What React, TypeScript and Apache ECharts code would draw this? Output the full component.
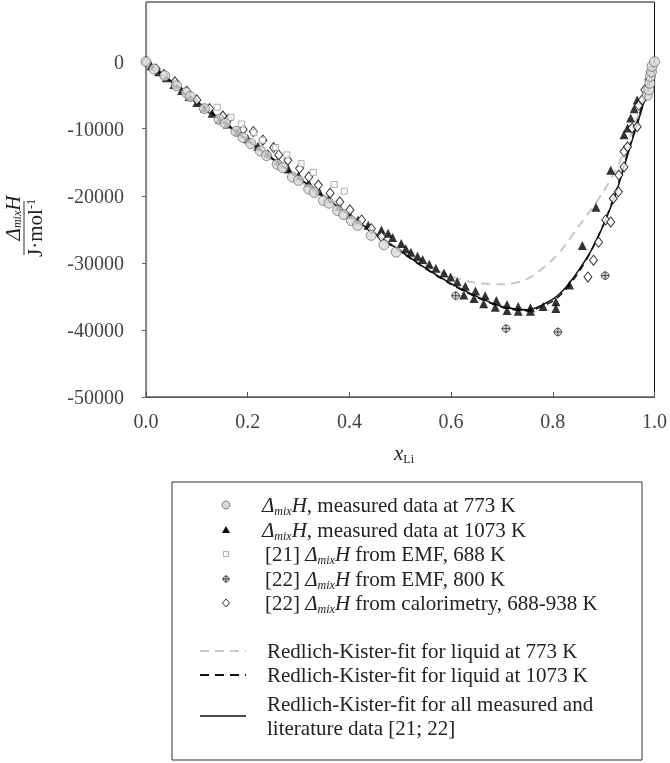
import React, { useEffect, useRef } from "react";
import * as echarts from "echarts";

const FF = '"Liberation Serif", "Times New Roman", serif';

// ---- data ----
const circles773: number[][] = [
  [0, 0], [0.016, -1100], [0.037, -2100], [0.06, -3600], [0.079, -4600], [0.087, -5200],
  [0.115, -7000], [0.144, -8600], [0.156, -9200], [0.177, -10400], [0.191, -11300],
  [0.206, -12200], [0.225, -13300], [0.237, -14000], [0.258, -15300], [0.269, -15800],
  [0.288, -17200], [0.3, -17700], [0.32, -19000], [0.331, -19500], [0.349, -20700],
  [0.36, -21100], [0.377, -22200], [0.389, -22800], [0.404, -23700], [0.416, -24400],
  [0.443, -25900], [0.468, -27300], [0.492, -28400],
  [0.986, -5000], [0.989, -4200], [0.991, -3200], [0.992, -2200], [0.994, -1500], [0.995, -700], [1.0, 0],
];

const triangles1073: number[][] = [
  [0.01, -600], [0.025, -1500], [0.04, -2400], [0.055, -3400], [0.07, -4300], [0.085, -5200],
  [0.1, -6100], [0.115, -6900], [0.13, -7700], [0.145, -8600], [0.16, -9300], [0.18, -10400],
  [0.2, -11500], [0.22, -12600], [0.24, -13700], [0.26, -14800], [0.28, -16000], [0.3, -17000],
  [0.32, -18100], [0.34, -19300], [0.36, -20400], [0.38, -21600], [0.4, -22800],
  [0.417, -23600], [0.437, -24400], [0.463, -25100], [0.476, -25600], [0.485, -26200],
  [0.502, -27100], [0.511, -27900], [0.521, -28400], [0.534, -29000], [0.544, -29500],
  [0.557, -30200], [0.57, -30800], [0.586, -31500], [0.599, -32100], [0.612, -32800],
  [0.628, -33500], [0.625, -34800], [0.648, -34200], [0.645, -35300], [0.667, -34900],
  [0.664, -36100], [0.689, -35600], [0.687, -36600], [0.71, -36200], [0.71, -37100],
  [0.732, -36500], [0.732, -37200], [0.756, -36700], [0.756, -37200], [0.781, -36500],
  [0.806, -35800], [0.806, -36800], [0.833, -33300], [0.858, -27400], [0.885, -21700],
  [0.914, -16200], [0.94, -10900], [0.947, -9900], [0.953, -8400], [0.96, -7000], [0.966, -5700],
];

const squares688: number[][] = [
  [0.14, -6800], [0.167, -8300], [0.188, -9300], [0.212, -10600], [0.229, -11700],
  [0.255, -12800], [0.277, -13900], [0.305, -15200], [0.329, -16500], [0.37, -18300], [0.39, -19300],
];

const crossed800: number[][] = [
  [0.609, -34900], [0.708, -39800], [0.81, -40300], [0.903, -31900],
];

const diamondsCal: number[][] = [
  [0, 0], [0.02, -1100], [0.035, -1900], [0.057, -3000], [0.08, -4400], [0.1, -5700],
  [0.125, -7000], [0.151, -8100], [0.162, -8600], [0.191, -10100], [0.211, -10400],
  [0.23, -11700], [0.251, -12800], [0.261, -13900], [0.279, -14700], [0.302, -15900],
  [0.32, -17200], [0.339, -18400], [0.362, -19600], [0.381, -20900], [0.401, -22100],
  [0.424, -23600], [0.443, -24900], [0.463, -26100],
  [0.869, -32100], [0.88, -29600], [0.89, -26900], [0.904, -23600], [0.914, -23900],
  [0.919, -20400], [0.929, -19400], [0.93, -16900], [0.94, -15700], [0.94, -13400],
  [0.947, -12700], [0.956, -9900], [0.966, -9700], [0.969, -6500], [0.976, -5700],
  [0.981, -4200], [0.989, -2700], [0.993, -1500],
];

const fitX = [0, 0.05, 0.1, 0.15, 0.2, 0.25, 0.3, 0.35, 0.4, 0.45, 0.5, 0.55, 0.6, 0.65, 0.7,
  0.75, 0.8, 0.825, 0.85, 0.875, 0.9, 0.925, 0.95, 0.975, 1.0];
const fitAllY = [0, -2900, -5900, -8800, -11700, -14500, -17300, -20100, -22900, -25600, -28200,
  -30800, -33100, -35000, -36500, -37000, -35400, -33700, -31200, -28200, -24300, -19400, -13200, -7100, 0];
const fit773Y = [0, -3100, -6100, -9000, -11900, -14800, -17600, -20400, -23100, -25700, -28100,
  -30300, -32000, -33000, -33200, -32400, -29500, -27300, -24600, -22100, -19300, -16000, -11600, -6300, 0];
const fit1073Y = [0, -3000, -6000, -8900, -11800, -14600, -17400, -20200, -23000, -25700, -28300,
  -30900, -33200, -35100, -36600, -37100, -35700, -34000, -31500, -28300, -24200, -19100, -12900, -6700, 0];

const xTicks = [0, 0.2, 0.4, 0.6, 0.8, 1.0];
const yTicks = [-50000, -40000, -30000, -20000, -10000, 0];

const legendTexts = [
  "{i|Δ}{s|mix}{i|H}{n|, measured data at 773 K}",
  "{i|Δ}{s|mix}{i|H}{n|, measured data at 1073 K}",
  "{n|[21] }{i|Δ}{s|mix}{i|H}{n| from EMF, 688 K}",
  "{n|[22] }{i|Δ}{s|mix}{i|H}{n| from EMF, 800 K}",
  "{n|[22] }{i|Δ}{s|mix}{i|H}{n| from calorimetry, 688-938 K}",
  "Redlich-Kister-fit for liquid at 773 K",
  "Redlich-Kister-fit for liquid at 1073 K",
  "Redlich-Kister-fit for all measured and\nliterature data [21; 22]",
];

const zip = (xs: number[], ys: number[]) => xs.map((x, i) => [x, ys[i]]);

const FS = 21;
const makeRich = (lh: number) => ({
  n: { fontFamily: FF, fontSize: FS, fill: "#222", lineHeight: lh },
  i: { fontFamily: FF, fontSize: FS, fontStyle: "italic", fill: "#222", lineHeight: lh },
  s: { fontFamily: FF, fontSize: 12, fontStyle: "italic", fill: "#222", lineHeight: 6, verticalAlign: "bottom" },
  u: { fontFamily: FF, fontSize: 12, fill: "#222", lineHeight: 6, verticalAlign: "bottom" },
  p: { fontFamily: FF, fontSize: 12, fill: "#222", lineHeight: 12, verticalAlign: "top" },
});

function txt(x: number, y: number, text: string, align = "left", lh = 24) {
  return {
    type: "text",
    x,
    y,
    style: {
      text,
      rich: makeRich(lh),
      fontFamily: FF,
      fontSize: FS,
      fill: "#222",
      lineHeight: lh,
      align,
      textAlign: align,
      verticalAlign: "middle",
      textVerticalAlign: "middle",
    },
  };
}

export default function App() {
  const ref = useRef<HTMLDivElement>(null);
  useEffect(() => {
    document.body.style.margin = "0";
    const chart = echarts.init(ref.current!, null, { renderer: "svg" });

    const mx = 226; // legend marker x
    const rowsY = [505, 530, 554, 579, 603];
    const lineRowsY = [651, 675, 716];

    const graphic: any[] = [
      // legend box
      { type: "rect", shape: { x: 172, y: 482, width: 470, height: 278 }, style: { fill: "none", stroke: "#333", lineWidth: 1 } },
      // markers
      { type: "circle", shape: { cx: mx, cy: rowsY[0], r: 4 }, style: { fill: "#d9d9d9", stroke: "#666", lineWidth: 0.8 } },
      { type: "polygon", shape: { points: [[mx, rowsY[1] - 4], [mx + 4, rowsY[1] + 3], [mx - 4, rowsY[1] + 3]] }, style: { fill: "#000" } },
      { type: "rect", shape: { x: mx - 2.5, y: rowsY[2] - 2.5, width: 5, height: 5 }, style: { fill: "#fff", stroke: "#999", lineWidth: 0.8 } },
      { type: "circle", shape: { cx: mx, cy: rowsY[3], r: 3 }, style: { fill: "#ccc", stroke: "#333", lineWidth: 0.8 } },
      { type: "line", shape: { x1: mx - 4, y1: rowsY[3], x2: mx + 4, y2: rowsY[3] }, style: { stroke: "#333", lineWidth: 0.8 } },
      { type: "line", shape: { x1: mx, y1: rowsY[3] - 4, x2: mx, y2: rowsY[3] + 4 }, style: { stroke: "#333", lineWidth: 0.8 } },
      { type: "polygon", shape: { points: [[mx, rowsY[4] - 4], [mx + 3.5, rowsY[4]], [mx, rowsY[4] + 4], [mx - 3.5, rowsY[4]]] }, style: { fill: "#fff", stroke: "#000", lineWidth: 0.8 } },
      { type: "line", shape: { x1: 200, y1: lineRowsY[0], x2: 246, y2: lineRowsY[0] }, style: { stroke: "#c8c8c8", lineWidth: 2, lineDash: [9, 6] } },
      { type: "line", shape: { x1: 200, y1: lineRowsY[1], x2: 246, y2: lineRowsY[1] }, style: { stroke: "#111", lineWidth: 2, lineDash: [9, 6] } },
      { type: "line", shape: { x1: 200, y1: lineRowsY[2], x2: 246, y2: lineRowsY[2] }, style: { stroke: "#111", lineWidth: 1.5 } },
      txt(262, rowsY[0], legendTexts[0]),
      txt(262, rowsY[1], legendTexts[1]),
      txt(265, rowsY[2], legendTexts[2]),
      txt(265, rowsY[3], legendTexts[3]),
      txt(265, rowsY[4], legendTexts[4]),
      txt(267, lineRowsY[0], legendTexts[5]),
      txt(267, lineRowsY[1], legendTexts[6]),
      txt(267, lineRowsY[2], legendTexts[7]),
      // x axis title
      txt(404, 453, "{i|x}{u|Li}", "center"),
      // y axis title (rotated fraction)
      {
        type: "group",
        x: 24,
        y: 228,
        rotation: Math.PI / 2,
        children: [
          txt(10, -11, "{i|Δ}{s|mix}{i|H}", "center", 20),
          { type: "line", shape: { x1: -27, y1: 0, x2: 27, y2: 0 }, style: { stroke: "#333", lineWidth: 1 } },
          txt(0, 11, "{n|J·mol}{p|-1}", "center", 20),
        ],
      },
    ];

    const option: any = {
      animation: false,
      grid: { left: 146, right: 11, top: 2, bottom: 366, show: true, borderColor: "#111", borderWidth: 1, containLabel: false },
      xAxis: {
        type: "value", min: 0, max: 1, interval: 0.2,
        axisLine: { show: true, onZero: false, lineStyle: { color: "#555", width: 1 } },
        axisTick: { show: true, inside: true, length: 5, lineStyle: { color: "#555" }, customValues: xTicks },
        axisLabel: { margin: 14, fontFamily: FF, fontSize: 20, color: "#444", customValues: xTicks, formatter: (v: number) => v.toFixed(1) },
        splitLine: { show: false },
      },
      yAxis: {
        type: "value", min: -50000, max: 8900, interval: 10000,
        axisLine: { show: true, onZero: false, lineStyle: { color: "#888", width: 1.2 } },
        axisTick: { show: true, inside: false, length: 4, lineStyle: { color: "#666" }, customValues: yTicks },
        axisLabel: { margin: 22, fontFamily: FF, fontSize: 20, color: "#444", customValues: yTicks, formatter: (v: number) => (v > 0 ? "" : String(v)) },
        splitLine: { show: false },
      },
      graphic,
      series: [
        { type: "line", data: zip(fitX, fit773Y), smooth: 0.3, symbol: "none", lineStyle: { color: "#c8c8c8", width: 2, type: [9, 6] }, z: 2 },
        { type: "line", data: zip(fitX, fit1073Y), smooth: 0.3, symbol: "none", lineStyle: { color: "#111", width: 1.5, type: [7, 5] }, z: 2 },
        { type: "line", data: zip(fitX, fitAllY), smooth: 0.3, symbol: "none", lineStyle: { color: "#111", width: 1.5 }, z: 2 },
        { type: "scatter", data: triangles1073, symbol: "triangle", symbolSize: [9, 9], itemStyle: { color: "#000" }, z: 3 },
        { type: "scatter", data: diamondsCal, symbol: "diamond", symbolSize: [8, 10], itemStyle: { color: "#fff", borderColor: "#000", borderWidth: 1 }, z: 3 },
        { type: "scatter", data: squares688, symbol: "rect", symbolSize: 6, itemStyle: { color: "#fff", borderColor: "#999", borderWidth: 1 }, z: 3 },
        { type: "scatter", data: circles773, symbol: "circle", symbolSize: 10, itemStyle: { color: "#d9d9d9", borderColor: "#555", borderWidth: 0.8 }, z: 3 },
        { type: "scatter", data: crossed800, symbol: "path://M6,1A5,5,0,1,1,5.99,1ZM0,6L12,6M6,0L6,12", symbolSize: 9, itemStyle: { color: "#ccc", borderColor: "#333", borderWidth: 1 }, z: 3 },
      ],
    };
    chart.setOption(option);
    return () => chart.dispose();
  }, []);
  return <div ref={ref} style={{ position: "fixed", left: 0, top: 0, width: 670, height: 763 }} />;
}
